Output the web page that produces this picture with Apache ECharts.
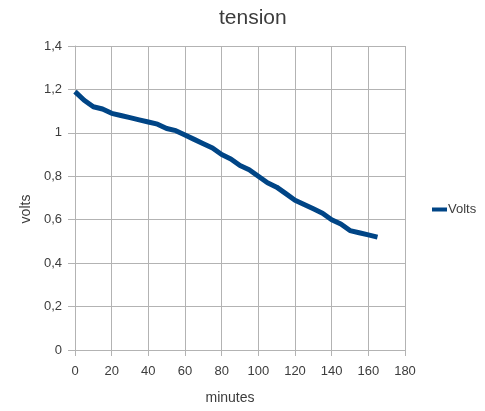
<!DOCTYPE html>
<html>
<head>
<meta charset="utf-8">
<script src="https://cdn.jsdelivr.net/npm/echarts@6/dist/echarts.min.js"></script>
<style>
html,body{margin:0;padding:0;background:#fff;}
#chart{width:485px;height:411px;}
</style>
</head>
<body>
<div id="chart"></div>
<script>
// Battery voltage measured every 5 minutes
const minutes = [0,5,10,15,20,25,30,35,40,45,50,55,60,65,70,75,80,85,90,95,100,105,110,115,120,125,130,135,140,145,150,155,160,165];
const volts = [1.19,1.15,1.12,1.11,1.09,1.08,1.07,1.06,1.05,1.04,1.02,1.01,0.99,0.97,0.95,0.93,0.90,0.88,0.85,0.83,0.80,0.77,0.75,0.72,0.69,0.67,0.65,0.63,0.60,0.58,0.55,0.54,0.53,0.52];

const chart = echarts.init(document.getElementById('chart'));
const font = 'Liberation Sans';
const textColor = '#3c3c3c';
chart.setOption({
  animation: false,
  textStyle: { fontFamily: font },
  title: {
    text: 'tension', left: 214, top: 3,
    textStyle: { fontFamily: font, fontSize: 21, fontWeight: 'normal', color: textColor }
  },
  legend: {
    data: ['Volts'], orient: 'vertical', left: 427, top: 198,
    itemWidth: 15, itemHeight: 4, itemGap: 4,
    icon: 'rect',
    textStyle: { fontFamily: font, fontSize: 13, color: textColor, padding: [0, 0, 0, -4] }
  },
  grid: { left: 75, top: 46, width: 330, height: 304, containLabel: false },
  xAxis: {
    type: 'value', min: 0, max: 180, interval: 20,
    name: 'minutes', nameLocation: 'middle', nameGap: 41,
    nameTextStyle: { fontFamily: font, fontSize: 14, color: textColor, padding: [0, 20, 0, 0] },
    axisLine: { show: true, lineStyle: { color: '#b3b3b3' } },
    axisTick: { show: true, length: 6, lineStyle: { color: '#b3b3b3' } },
    axisLabel: { fontFamily: font, fontSize: 13, color: textColor, margin: 15 },
    splitLine: { show: true, lineStyle: { color: '#b3b3b3' } }
  },
  yAxis: {
    type: 'value', min: 0, max: 1.4, interval: 0.2,
    name: 'volts', nameLocation: 'middle', nameGap: 40,
    nameTextStyle: { fontFamily: font, fontSize: 14, color: textColor, padding: [0, 22, 0, 0] },
    axisLine: { show: true, lineStyle: { color: '#b3b3b3' } },
    axisTick: { show: true, length: 7, lineStyle: { color: '#b3b3b3' } },
    axisLabel: {
      fontFamily: font, fontSize: 13, color: textColor, margin: 13,
      formatter: v => String(Math.round(v * 10) / 10).replace('.', ',')
    },
    splitLine: { show: true, lineStyle: { color: '#b3b3b3' } }
  },
  series: [{
    name: 'Volts', type: 'line',
    data: minutes.map((m, i) => [m, volts[i]]),
    showSymbol: false, symbol: 'none',
    lineStyle: { color: '#004586', width: 5, join: 'round' },
    itemStyle: { color: '#004586' }
  }]
});
</script>
</body>
</html>
